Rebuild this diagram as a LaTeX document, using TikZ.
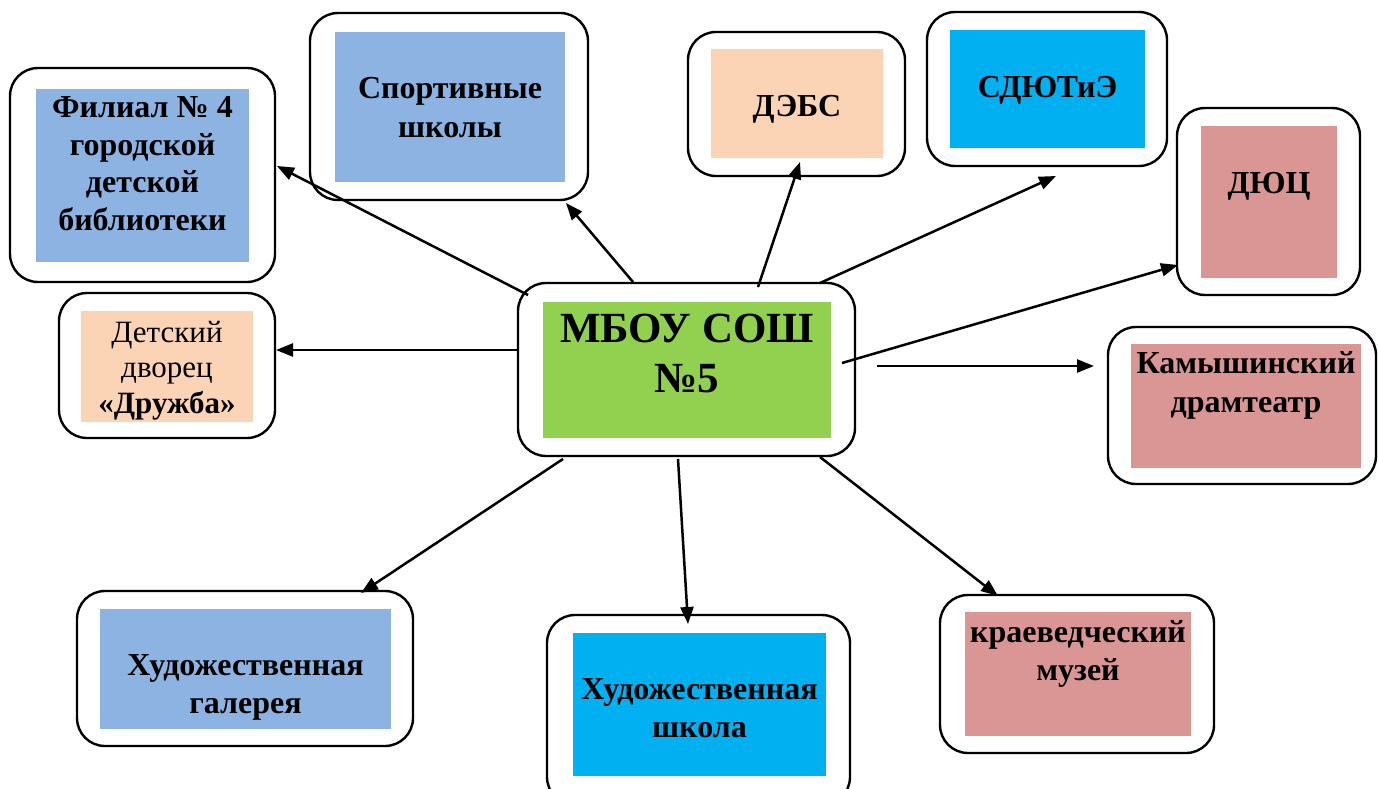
\documentclass[tikz,border=0pt]{standalone}
\usepackage{fontspec}
\setmainfont{Liberation Serif}
\usetikzlibrary{arrows.meta}
\definecolor{cblue}{HTML}{8DB3E2}
\definecolor{cpeach}{HTML}{FAD4B4}
\definecolor{ccyan}{HTML}{00B0F0}
\definecolor{cpink}{HTML}{D99694}
\definecolor{cgreen}{HTML}{92D050}
\tikzset{
  obox/.style={draw, line width=2.4pt, rounded corners=28pt, inner sep=0pt, fill=white},
  lbl/.style={font=\fontsize{32}{38}\selectfont\bfseries, align=center, anchor=base, inner sep=0pt},
  arr/.style={-{Triangle[length=17pt,width=13pt]}, line width=2.5pt},
}
\begin{document}
\begin{tikzpicture}[x=1pt,y=-1pt]
\useasboundingbox (0,0) rectangle (1378,789);
% outer boxes
\node[obox, minimum width=265pt, minimum height=214pt] (fil) at (142.5,175) {};
\node[obox, minimum width=216pt, minimum height=145pt] (dvor) at (167,365.5) {};
\node[obox, minimum width=278pt, minimum height=187pt] (sport) at (449,106.5) {};
\node[obox, minimum width=217pt, minimum height=144pt] (debs) at (796.5,104) {};
\node[obox, minimum width=240pt, minimum height=154pt] (sdyut) at (1047,89) {};
\node[obox, minimum width=183pt, minimum height=187pt] (dyuc) at (1268.5,201.5) {};
\node[obox, minimum width=268pt, minimum height=157pt] (kam) at (1242,405.5) {};
\node[obox, minimum width=337pt, minimum height=173pt] (mbou) at (686.5,369.5) {};
\node[obox, minimum width=336pt, minimum height=155pt] (gal) at (245,668.5) {};
\node[obox, minimum width=303pt, minimum height=190pt] (shk) at (698.5,710) {};
\node[obox, minimum width=274pt, minimum height=158pt] (muz) at (1077,674) {};
% inner fills
\fill[cblue] (36,89) rectangle (249,262);
\fill[cpeach] (81,311) rectangle (253,422);
\fill[cblue] (335,32) rectangle (565,182);
\fill[cpeach] (711,49) rectangle (883,158);
\fill[ccyan] (950,30) rectangle (1145,148);
\fill[cpink] (1201,126) rectangle (1337,278);
\fill[cpink] (1131,344) rectangle (1361,468);
\fill[cgreen] (543,302) rectangle (831,438);
\fill[cblue] (100,609) rectangle (391,729);
\fill[ccyan] (573,633) rectangle (826,776);
\fill[cpink] (965,612) rectangle (1191,736);
% labels (anchor = baseline of last line)
\node[lbl, font=\fontsize{32}{37.5}\selectfont\bfseries] (filt) at (142.5,230) {Филиал № 4\\городской\\детской\\библиотеки};
\node[lbl, font=\fontsize{31}{35.5}\selectfont] (dvort) at (167,413) {Детский\\дворец\\\textbf{«Дружба»}};
\node[lbl] (sportt) at (450,137) {Спортивные\\школы};
\node[lbl] (debst) at (797,117) {ДЭБС};
\node[lbl] (sdyutt) at (1047.5,98) {СДЮТиЭ};
\node[lbl] (dyuct) at (1269,193) {ДЮЦ};
\node[lbl, font=\fontsize{32}{39}\selectfont\bfseries] (kamt) at (1246,412) {Камышинский\\драмтеатр};
\node[lbl, font=\fontsize{43}{50}\selectfont\bfseries] (mbout) at (687,392) {МБОУ СОШ\\№5};
\node[lbl] (galt) at (245.5,713) {Художественная\\галерея};
\node[lbl] (shkt) at (699.5,737) {Художественная\\школа};
\node[lbl] (muzt) at (1078,680) {краеведческий\\музей};
% connector end points
\coordinate (s1) at (528,295);  \coordinate (e1) at (277,166);
\coordinate (s2) at (633,282);  \coordinate (e2) at (566,203);
\coordinate (s3) at (758,287);  \coordinate (e3) at (800,162);
\coordinate (s4) at (820,283);  \coordinate (e4) at (1056,176);
\coordinate (s5) at (842,363);  \coordinate (e5) at (1178,265);
\coordinate (s6) at (877,366);  \coordinate (e6) at (1094,366);
\coordinate (s7) at (517,350);  \coordinate (e7) at (276,350);
\coordinate (s8) at (563,459);  \coordinate (e8) at (361,593);
\coordinate (s9) at (678,459);  \coordinate (e9) at (688,624);
\coordinate (s10) at (820,457); \coordinate (e10) at (998,596);
\draw[arr] (s1) -- (e1);
\draw[arr] (s2) -- (e2);
\draw[arr] (s3) -- (e3);
\draw[arr] (s4) -- (e4);
\draw[arr] (s5) -- (e5);
\draw[arr] (s6) -- (e6);
\draw[arr] (s7) -- (e7);
\draw[arr] (s8) -- (e8);
\draw[arr] (s9) -- (e9);
\draw[arr] (s10) -- (e10);
\end{tikzpicture}
\end{document}
